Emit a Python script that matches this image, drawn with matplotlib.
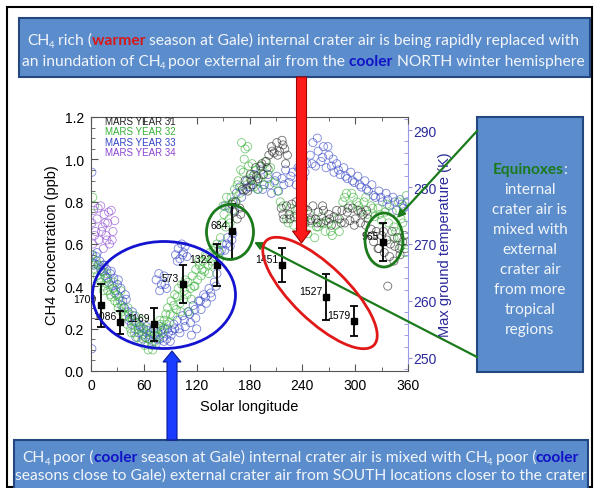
import matplotlib
matplotlib.use('Agg')
import matplotlib.pyplot as plt
from matplotlib.patches import Rectangle, Ellipse, FancyArrow, FancyArrowPatch
from matplotlib.ticker import MultipleLocator

plt.rcParams['font.family'] = ['Liberation Sans', 'DejaVu Sans']

# Max ground temperature (K) vs solar longitude, one pair of lists per Mars year
ls_my31 = [160, 163, 166, 169, 172, 175, 178, 181, 184, 187, 190, 193, 196, 199,
           202, 205, 208, 211, 214, 217, 220, 223, 216, 219, 222, 225, 228, 231,
           240, 243, 246, 249, 252, 255, 258, 261, 264, 267, 270, 273, 276,
           282, 285, 288, 291, 294, 297, 300, 303, 306, 309, 312, 315,
           318, 321, 324, 327, 330, 333, 336, 339, 342, 345, 348, 351, 354, 357, 337,
           164, 170, 176, 182, 188, 194, 200, 206, 212, 218, 221, 218, 226, 233,
           242, 250, 257, 263, 271, 279, 284, 292, 299, 307, 313, 320, 326, 332,
           340, 344, 350, 356]
t_my31 = [277.0, 275.6, 274.4, 276.3, 279.6, 281.1, 279.3, 282.2, 280.4, 283.4, 281.5, 283.7, 282.2, 284.5,
          285.6, 287.1, 286.0, 287.8, 286.3, 288.2, 286.7, 285.6, 276.3, 274.4, 276.7, 275.2, 277.0, 274.8,
          275.2, 273.7, 275.9, 274.1, 276.7, 274.4, 275.6, 273.7, 275.9, 274.1, 275.2, 273.3, 274.8,
          274.4, 275.9, 273.7, 275.6, 274.1, 276.3, 274.4, 275.9, 273.7, 275.2, 273.3, 274.4,
          272.6, 270.4, 272.2, 269.2, 271.5, 268.5, 270.7, 267.8, 272.2, 269.6, 271.1, 268.1, 270.4, 269.2, 262.6,
          277.4, 275.2, 279.6, 281.1, 281.9, 284.1, 283.4, 286.3, 285.6, 287.4, 284.1, 275.2, 274.4, 277.4,
          276.3, 274.4, 273.7, 276.7, 274.4, 275.9, 273.7, 276.3, 273.3, 275.6, 275.9, 271.5, 269.2, 272.2,
          270.0, 267.0, 269.2, 271.5]

ls_my32 = [2, 4, 1, 3, 5, 7, 9, 11, 13, 15, 17, 19, 21, 23, 25, 27, 29, 31, 33, 35, 37, 39,
           41, 43, 45, 47, 49, 51, 53, 55, 57, 59, 61, 63, 65, 67, 69, 71, 73, 75, 77, 79, 81, 83,
           85, 87, 89, 91, 93, 95, 97, 99, 101, 103, 105, 107, 109, 111, 113, 115, 117, 119,
           121, 123, 125, 127, 129, 131, 133, 135, 137, 139, 141, 143, 145, 147,
           149, 151, 153, 155, 157, 159, 161, 163, 165, 167, 169, 171, 173, 175, 177, 179,
           181, 183, 185, 187, 189, 192, 195, 198, 201, 204, 208, 212,
           218, 222, 226, 230, 234, 238, 242, 246, 250, 254, 258, 262, 266, 270, 274, 278, 282,
           286, 290, 294, 298, 302, 306, 310, 314, 318, 322, 326, 330, 334, 338,
           342, 346, 349, 352, 355, 358, 344, 352, 357, 359,
           6, 10, 14, 18, 22, 26, 30, 34, 38, 42, 46, 50, 54, 58, 62, 66, 70, 74, 78, 82,
           86, 90, 94, 98, 102, 106, 110, 114, 118, 122, 126, 130, 134, 138, 142, 146,
           150, 154, 158, 162, 166, 170, 174, 178, 184, 190, 196, 202, 215, 224, 232, 240,
           248, 256, 264, 272, 280, 288, 296, 304, 312, 320, 328, 336, 344, 350, 354]
t_my32 = [278.2, 276.7, 268.1, 266.3, 265.5, 264.4, 266.3, 263.3, 265.2, 262.6, 264.0, 261.8, 262.9, 260.7, 262.2, 260.0, 261.1, 258.8, 260.0, 258.1, 258.8, 257.4,
          255.9, 257.7, 255.1, 256.6, 254.4, 256.2, 253.6, 255.5, 252.9, 255.1, 252.2, 254.4, 251.4, 253.3, 252.2, 254.8, 252.9, 255.1, 253.6, 255.9, 254.4, 256.6,
          257.7, 258.8, 256.2, 260.0, 257.4, 261.1, 258.5, 262.2, 259.6, 262.9, 260.3, 263.7, 261.1, 258.1, 262.2, 264.4, 262.6, 265.5,
          263.7, 266.3, 264.4, 267.0, 265.2, 267.8, 266.3, 268.5, 267.0, 269.2, 267.8, 270.0, 268.9, 271.1,
          273.7, 275.2, 273.0, 276.7, 274.4, 278.2, 275.9, 279.6, 277.4, 281.1, 278.9, 287.8, 282.6, 286.7, 280.4, 283.7,
          281.5, 284.1, 280.0, 283.0, 281.1, 283.7, 282.2, 284.5, 281.5, 283.4, 280.8, 279.3,
          276.7, 274.4, 276.3, 273.3, 275.2, 272.6, 274.4, 271.8, 273.7, 271.1, 273.0, 274.8, 272.2, 273.7, 271.5, 273.3, 272.2,
          277.4, 278.9, 276.7, 278.2, 277.4, 275.9, 277.4, 275.2, 276.7, 274.8, 276.3, 274.1, 275.6, 273.7,
          275.6, 272.2, 277.4, 274.4, 276.7, 278.5, 271.1, 269.6, 268.5, 270.4,
          267.0, 264.0, 261.8, 264.8, 261.1, 263.3, 259.6, 261.8, 257.4, 258.8, 254.4, 257.4, 255.1, 256.6, 253.6, 255.1, 251.4, 254.0, 256.6, 255.1,
          255.9, 257.7, 259.2, 260.7, 258.1, 261.8, 263.3, 260.3, 262.6, 267.0, 265.5, 268.1, 264.8, 266.3, 269.2, 267.4,
          276.7, 278.2, 273.7, 277.4, 280.4, 283.0, 284.9, 287.1, 281.9, 279.6, 280.4, 283.0, 277.4, 273.7, 275.9, 272.2,
          275.2, 273.0, 273.7, 272.2, 274.4, 278.2, 278.9, 276.7, 278.2, 276.3, 275.2, 277.0, 273.0, 271.1, 273.7]

ls_my33 = [1, 1, 2, 4, 6, 8, 10, 12, 14, 16, 18, 20, 22, 24, 26, 28, 30, 32, 34, 36, 38, 40,
           42, 44, 46, 48, 50, 52, 54, 56, 58, 60, 62, 64, 66, 68, 70, 72, 74, 76, 78, 80, 82, 84,
           86, 88, 90, 92, 74, 77, 80, 83, 86, 96, 99, 101, 103, 105, 107, 109,
           95, 98, 101, 104, 107, 110, 113, 116, 119, 122, 125, 128, 131, 134, 137, 140, 143,
           146, 149, 152, 155, 158, 161, 157, 161, 165, 169, 173, 177, 181, 185, 189, 193, 197,
           201, 205, 209, 213, 217, 221, 225, 229, 233, 237, 241, 245, 249, 252, 255, 258, 261,
           264, 267, 270, 273, 276, 279, 283, 287, 291, 295, 299, 303, 307, 311, 315, 319,
           323, 327, 331, 335, 339, 343, 347, 351, 355, 359,
           3, 7, 11, 15, 19, 23, 27, 31, 35, 39, 43, 47, 51, 55, 59, 63, 67, 71, 75, 79,
           83, 87, 91, 94, 78, 84, 98, 104, 100, 106, 112, 118, 124, 130, 136, 142, 114, 120,
           148, 154, 160, 152, 163, 171, 179, 187, 195, 203, 211, 219, 227, 235, 243, 251,
           257, 263, 269, 275, 281, 289, 297, 305, 313, 321, 329, 337, 345, 353]
t_my33 = [282.6, 251.6, 268.1, 266.6, 267.8, 266.3, 267.0, 265.2, 266.3, 264.4, 265.5, 263.3, 264.8, 262.6, 264.0, 261.8, 262.9, 260.7, 262.2, 260.0, 258.8, 260.3,
          258.1, 257.0, 255.9, 257.4, 255.1, 256.2, 254.4, 255.5, 254.0, 255.1, 253.6, 254.8, 253.3, 254.4, 252.9, 254.0, 252.5, 254.4, 253.3, 254.8, 253.6, 255.1,
          253.3, 254.4, 252.9, 254.8, 263.7, 264.8, 262.9, 264.4, 262.2, 268.1, 269.2, 267.4, 270.0, 268.5, 269.6, 267.8,
          255.1, 256.6, 254.4, 257.4, 255.5, 258.1, 256.2, 259.2, 257.0, 260.0, 258.5, 261.1, 259.6, 262.2, 260.7, 263.3, 264.8,
          268.5, 270.0, 268.9, 271.1, 269.6, 271.8, 276.3, 277.4, 278.9, 280.0, 279.3, 281.1, 280.0, 282.2, 279.6, 283.0, 280.4,
          282.2, 278.9, 281.1, 279.3, 281.5, 283.0, 280.8, 282.6, 280.4, 283.4, 281.5, 284.1, 285.6, 287.8, 283.7, 286.3, 284.5,
          287.1, 283.4, 285.6, 283.7, 282.6, 284.1, 282.2, 283.4, 281.5, 282.6, 280.8, 281.9, 280.0, 281.1, 279.3, 280.4,
          278.2, 279.3, 277.4, 278.9, 276.7, 278.2, 275.9, 277.8, 276.3, 277.4,
          266.3, 268.5, 265.5, 266.3, 264.0, 265.2, 261.4, 263.7, 259.2, 261.1, 256.6, 258.1, 253.6, 255.9, 253.3, 255.5, 254.0, 255.1, 253.3, 255.5,
          252.9, 255.1, 254.0, 255.9, 261.8, 262.9, 267.0, 268.1, 255.1, 256.6, 257.7, 258.5, 260.0, 260.7, 261.4, 262.6, 254.0, 255.1,
          268.9, 270.0, 270.7, 276.7, 275.9, 278.2, 280.0, 281.1, 279.6, 280.4, 281.9, 280.4, 281.9, 283.4, 282.6, 284.1,
          288.6, 285.2, 287.1, 284.9, 283.0, 281.9, 281.1, 280.4, 279.6, 278.5, 278.2, 277.8, 277.4, 277.0]

ls_my34 = [1, 2, 3, 5, 7, 9, 11, 13, 14, 15, 17, 19, 21, 23, 25, 27, 4, 8, 12, 16, 20, 24, 18]
t_my34 = [273.7, 270.0, 275.9, 272.2, 274.4, 270.7, 276.7, 273.0, 269.2, 275.2, 271.5, 273.7, 270.0, 275.9, 272.2, 274.1,
          271.5, 276.3, 272.2, 273.7, 275.6, 270.7, 270.7]

# TLS methane measurements (ppb) with sol labels
ch4_ls = [11, 33, 71, 104, 143, 160, 217, 267, 299, 332]
ch4_ppb = [0.31, 0.23, 0.22, 0.41, 0.50, 0.66, 0.50, 0.35, 0.235, 0.61]
ch4_err = [0.10, 0.053, 0.08, 0.09, 0.10, 0.13, 0.08, 0.107, 0.07, 0.09]
ch4_sol = ['1709', '1086', '1169', '573', '1322', '684', '1451', '1527', '1579', '965']

years = ['MARS YEAR 31', 'MARS YEAR 32', 'MARS YEAR 33', 'MARS YEAR 34']
year_colors = ['#222222', '#35b035', '#3243c4', '#8a44d0']

BOX_FONT = 'Lato'
BOX_FILL = '#5b8dcc'
BOX_EDGE = '#24477f'
LIGHT = '#f2f5fa'
RED = '#d81818'
BLUE = '#1212c8'
DKGREEN = '#1b7a1b'
TEMP_COLOR = '#2a2a9a'

fig = plt.figure(figsize=(5.95, 4.89), dpi=100)
ax = fig.add_axes([91 / 595, 117 / 489, 317 / 595, 254 / 489])
ax2 = ax.twinx()

series = [(ls_my33, t_my33, year_colors[2]), (ls_my32, t_my32, year_colors[1]),
          (ls_my31, t_my31, year_colors[0]), (ls_my34, t_my34, year_colors[3])]
for ls, t, c in series:
    ax2.scatter(ls, t, s=34, facecolors='none', edgecolors=c, linewidths=0.6, alpha=0.65)

ax.errorbar(ch4_ls, ch4_ppb, yerr=ch4_err, fmt='s', color='k', ms=5,
            capsize=3, elinewidth=1.3, capthick=1.3)
for x, y, s in zip(ch4_ls, ch4_ppb, ch4_sol):
    ax.annotate(s, (x, y), xytext=(-4, 6), textcoords='offset pixels',
                ha='right', va='center', fontsize=7.5)

ax.set_xlim(0, 360)
ax.set_ylim(0, 1.2)
ax2.set_ylim(247.7, 292.3)
ax.set_zorder(ax2.get_zorder() + 1)
ax.patch.set_visible(False)

ax.xaxis.set_major_locator(MultipleLocator(60))
ax.xaxis.set_minor_locator(MultipleLocator(30))
ax.yaxis.set_major_locator(MultipleLocator(0.2))
ax.yaxis.set_minor_locator(MultipleLocator(0.05))
ax.tick_params(which='both', direction='in', top=True, right=False, labelsize=10, pad=5, color='#555555')
ax.tick_params(which='major', length=5)
ax.tick_params(which='minor', length=3)
for side in ['left', 'bottom', 'top']:
    ax.spines[side].set_color('#555555')
    ax.spines[side].set_linewidth(0.8)
ax.spines['right'].set_visible(False)

ax2.yaxis.set_major_locator(MultipleLocator(10))
ax2.yaxis.set_minor_locator(MultipleLocator(2))
ax2.tick_params(which='major', direction='out', length=3, pad=1, color='#9090e0',
                labelcolor=TEMP_COLOR, labelsize=10)
ax2.tick_params(which='minor', direction='in', length=3, color='#9090e0')
for side in ['left', 'bottom', 'top']:
    ax2.spines[side].set_visible(False)
ax2.spines['right'].set_color('#9a9ae8')

ax.set_xlabel('Solar longitude', fontsize=10.5, labelpad=5)
ax.set_ylabel('CH4 concentration (ppb)', fontsize=10.5, labelpad=4)
ax2.set_ylabel('Max ground temperature (K)', fontsize=10.5, color=TEMP_COLOR, labelpad=1)

# overlay in image pixel coordinates for the boxes, arrows and ellipses
ov = fig.add_axes([0, 0, 1, 1], zorder=10)
ov.set_xlim(0, 595)
ov.set_ylim(489, 0)
ov.axis('off')
ov.patch.set_alpha(0)
renderer = fig.canvas.get_renderer()

for i, (name, c) in enumerate(zip(years, year_colors)):
    ov.text(105, 122 + 10.4 * i, name, color=c, fontsize=7, va='center')


def text_width(txt, size, weight):
    a = ov.text(0, 0, '|' + txt + '|', fontsize=size, fontweight=weight, family=BOX_FONT)
    b = ov.text(0, 0, '||', fontsize=size, fontweight=weight, family=BOX_FONT)
    w = a.get_window_extent(renderer).width - b.get_window_extent(renderer).width
    a.remove()
    b.remove()
    return w


def line_pieces(pieces, size):
    out = []
    for txt, color, weight, sub in pieces:
        fs = size * 0.62 if sub else size
        out.append((txt, color, weight, sub, fs, text_width(txt, fs, weight)))
    return out


def draw_line(pieces, xc, yc, size):
    items = line_pieces(pieces, size)
    x = xc - sum(it[5] for it in items) / 2
    base = yc + 0.36 * size * 100 / 72
    for txt, color, weight, sub, fs, w in items:
        y = base + (0.2 * size * 100 / 72 if sub else 0)
        ov.text(x, y, txt, color=color, fontsize=fs, fontweight=weight,
                family=BOX_FONT, va='baseline', ha='left')
        x += w


def fit_size(pieces, target):
    w = sum(it[5] for it in line_pieces(pieces, 10))
    return 10 * target / w


ov.add_patch(Rectangle((7, 8), 585, 480, fill=False, ec='black', lw=1.5))

top1 = [('CH', LIGHT, 'normal', False), ('4 ', LIGHT, 'normal', True),
        ('rich (', LIGHT, 'normal', False), ('warmer ', RED, 'bold', False),
        ('season at Gale) internal crater air is being rapidly replaced with', LIGHT, 'normal', False)]
top2 = [('an inundation of CH', LIGHT, 'normal', False), ('4 ', LIGHT, 'normal', True),
        ('poor external air from the ', LIGHT, 'normal', False), ('cooler ', BLUE, 'bold', False),
        ('NORTH winter hemisphere', LIGHT, 'normal', False)]
bot1 = [('CH', LIGHT, 'normal', False), ('4 ', LIGHT, 'normal', True),
        ('poor (', LIGHT, 'normal', False), ('cooler ', BLUE, 'bold', False),
        ('season at Gale) internal crater air is mixed with CH', LIGHT, 'normal', False),
        ('4 ', LIGHT, 'normal', True), ('poor (', LIGHT, 'normal', False),
        ('cooler', BLUE, 'bold', False)]
bot2 = [('seasons close to Gale) external crater air from SOUTH locations closer to the crater',
         LIGHT, 'normal', False)]

ov.add_patch(Rectangle((19, 19), 571, 59, fc=BOX_FILL, ec=BOX_EDGE, lw=1.5))
size_top = fit_size(top2, 562)
draw_line(top1, 303, 39, size_top)
draw_line(top2, 303, 60, size_top)

ov.add_patch(Rectangle((14, 441), 574, 52, fc=BOX_FILL, ec=BOX_EDGE, lw=1.5))
draw_line(bot1, 301, 456, size_top)
draw_line(bot2, 301, 474, size_top)

# right hand box
ov.add_patch(Rectangle((477, 118), 106, 255, fc=BOX_FILL, ec=BOX_EDGE, lw=1.5))
right_lines = [[('Equinoxes', DKGREEN, 'bold', False), (':', LIGHT, 'normal', False)],
               [('internal', LIGHT, 'normal', False)],
               [('crater air is', LIGHT, 'normal', False)],
               [('mixed with', LIGHT, 'normal', False)],
               [('external', LIGHT, 'normal', False)],
               [('crater air', LIGHT, 'normal', False)],
               [('from more', LIGHT, 'normal', False)],
               [('tropical', LIGHT, 'normal', False)],
               [('regions', LIGHT, 'normal', False)]]
size_right = fit_size(right_lines[2], 75)
for i, pieces in enumerate(right_lines):
    draw_line(pieces, 530, 168 + 20 * i, size_right)

# arrows
ov.add_patch(FancyArrow(301.5, 78, 0, 166, width=10, head_width=18, head_length=12,
                        length_includes_head=True, fc='#ff1a1a', ec='#a00000', lw=0.8))
ov.add_patch(FancyArrow(172, 441, 0, -89, width=10, head_width=18, head_length=11,
                        length_includes_head=True, fc='#1a3cff', ec='#0a1a90', lw=0.8))
for start, end in [((477, 132), (397, 219)), ((477, 358), (254, 243))]:
    ov.add_patch(FancyArrowPatch(start, end, arrowstyle='-|>', mutation_scale=11,
                                 color=DKGREEN, lw=1.6, shrinkA=0, shrinkB=0))

# ellipses
ov.add_patch(Ellipse((164, 296), 143, 107, fill=False, ec='#1414d0', lw=2))
ov.add_patch(Ellipse((230, 233), 47, 55, fill=False, ec=DKGREEN, lw=2))
ov.add_patch(Ellipse((384, 241), 38, 54, fill=False, ec=DKGREEN, lw=2))
ov.add_patch(Ellipse((320, 294), 150, 55, angle=44, fill=False, ec='#e01818', lw=2))

fig.savefig('out.png', dpi=100)
